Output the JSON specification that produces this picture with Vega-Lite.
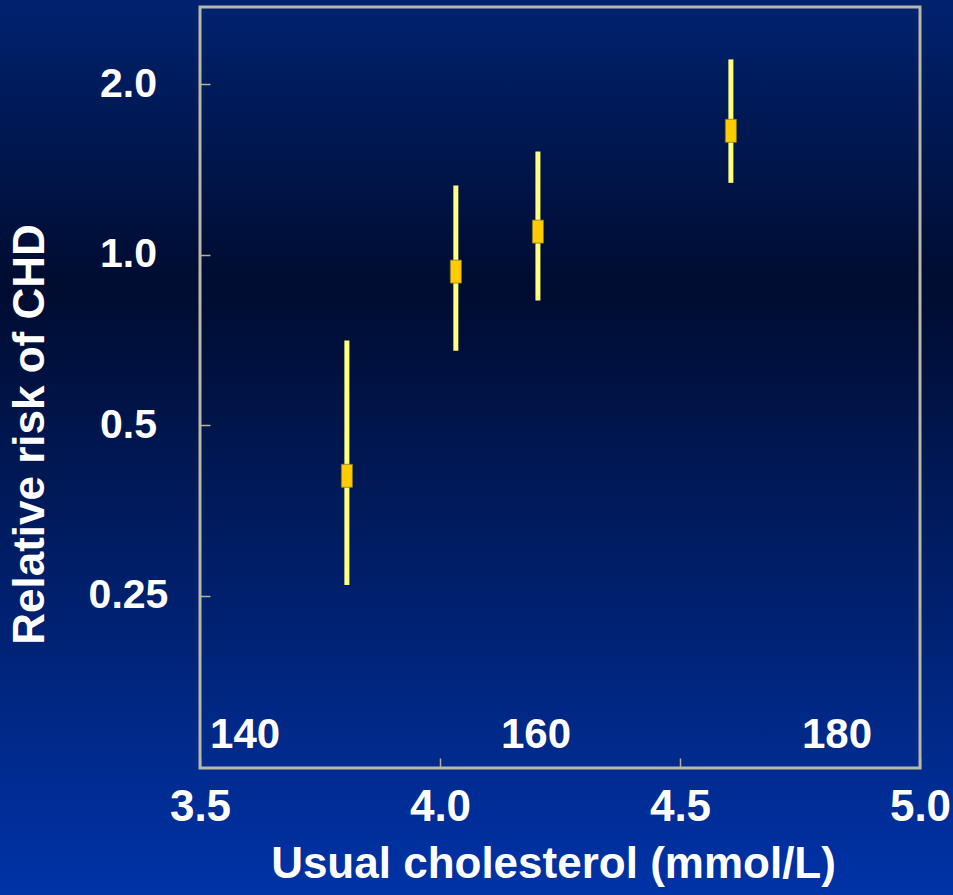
{
  "$schema": "https://vega.github.io/schema/vega-lite/v6.json",
  "width": 953,
  "height": 895,
  "autosize": "none",
  "padding": 0,
  "background": "#001a5a",
  "config": {
    "font": "Liberation Sans",
    "view": {
      "stroke": null,
      "fill": {
        "gradient": "linear",
        "x1": 0, "y1": 0, "x2": 0, "y2": 1,
        "stops": [
          {"offset": 0, "color": "#00226f"},
          {"offset": 0.32, "color": "#000c30"},
          {"offset": 1, "color": "#0033a8"}
        ]
      }
    },
    "axisX": {
      "orient": "bottom", "offset": -127, "format": ".1f",
      "domain": false, "grid": false, "ticks": true, "tickSize": -10, "tickColor": "#b8b090", "tickWidth": 1.5,
      "labelFontSize": 44, "labelFontWeight": "bold", "labelColor": "#ffffff", "labelPadding": 27,
      "labelFlush": false, "labelOverlap": false, "labelBound": false,
      "titleFontSize": 44, "titleFontWeight": "bold", "titleColor": "#ffffff",
      "titleX": 553, "titleY": 109, "titleBaseline": "alphabetic", "titleAlign": "center"
    },
    "axisY": {
      "orient": "left", "offset": -200,
      "labelExpr": "datum.value == 0.25 ? '0.25' : format(datum.value, '.1f')",
      "domain": false, "grid": false, "ticks": true, "tickSize": -10, "tickColor": "#b8b090", "tickWidth": 1.5,
      "labelFontSize": 41, "labelFontWeight": "bold", "labelColor": "#ffffff", "labelPadding": 82,
      "labelAlign": "center", "labelBaseline": "middle", "labelFlush": false, "labelOverlap": false, "labelBound": false,
      "titleFontSize": 44, "titleFontWeight": "bold", "titleColor": "#ffffff",
      "titleAngle": -90, "titleX": -170, "titleY": 434, "titleBaseline": "middle", "titleAlign": "center"
    }
  },
  "datasets": {
    "points": [
      {"chol": 3.806, "rr": 0.407, "lo": 0.261, "hi": 0.706},
      {"chol": 4.033, "rr": 0.934, "lo": 0.677, "hi": 1.326},
      {"chol": 4.204, "rr": 1.099, "lo": 0.830, "hi": 1.523},
      {"chol": 4.606, "rr": 1.656, "lo": 1.340, "hi": 2.214}
    ],
    "mgdl": [
      {"label": "140", "pos": 3.594, "rr": 0.1416},
      {"label": "160", "pos": 4.2, "rr": 0.1416},
      {"label": "180", "pos": 4.827, "rr": 0.1416}
    ]
  },
  "layer": [
    {
      "data": {"name": "points"},
      "mark": {"type": "rule", "color": "#ffff80", "strokeWidth": 5},
      "encoding": {
        "x": {"field": "chol", "type": "quantitative", "scale": {"domain": [3.5, 5.0], "range": [200, 920], "nice": false, "zero": false}, "axis": {"title": "Usual cholesterol (mmol/L)", "values": [3.5, 4.0, 4.5, 5.0]}},
        "y": {"field": "lo", "type": "quantitative", "scale": {"type": "log", "domain": [0.124, 2.74], "range": [768, 7], "nice": false}, "axis": {"title": "Relative risk of CHD", "values": [0.25, 0.5, 1, 2]}},
        "y2": {"field": "hi"}
      }
    },
    {
      "data": {"name": "points"},
      "mark": {"type": "point", "shape": "M -0.48 -1 L 0.48 -1 L 0.48 1 L -0.48 1 Z", "filled": true, "fill": "#ffcc00", "opacity": 1, "size": 529, "stroke": "#8a7a30", "strokeWidth": 0.8},
      "encoding": {
        "x": {"field": "chol", "type": "quantitative", "axis": {"title": "Usual cholesterol (mmol/L)", "values": [3.5, 4.0, 4.5, 5.0]}},
        "y": {"field": "rr", "type": "quantitative", "axis": {"title": "Relative risk of CHD", "values": [0.25, 0.5, 1, 2]}}
      }
    },
    {
      "data": {"name": "mgdl"},
      "mark": {"type": "text", "font": "Liberation Sans", "fontSize": 42, "fontWeight": "bold", "color": "#ffffff", "align": "center", "baseline": "middle"},
      "encoding": {
        "x": {"field": "pos", "type": "quantitative", "axis": {"title": "Usual cholesterol (mmol/L)", "values": [3.5, 4.0, 4.5, 5.0]}},
        "y": {"field": "rr", "type": "quantitative", "axis": {"title": "Relative risk of CHD", "values": [0.25, 0.5, 1, 2]}},
        "text": {"field": "label"}
      }
    },
    {
      "data": {"values": [{"x0": 3.5, "x1": 5.0, "y0": 0.124, "y1": 2.74}]},
      "mark": {"type": "rect", "filled": false, "stroke": "#b8b8a8", "strokeWidth": 3},
      "encoding": {
        "x": {"field": "x0", "type": "quantitative", "axis": {"title": "Usual cholesterol (mmol/L)", "values": [3.5, 4.0, 4.5, 5.0]}},
        "x2": {"field": "x1"},
        "y": {"field": "y0", "type": "quantitative", "axis": {"title": "Relative risk of CHD", "values": [0.25, 0.5, 1, 2]}},
        "y2": {"field": "y1"}
      }
    }
  ]
}
